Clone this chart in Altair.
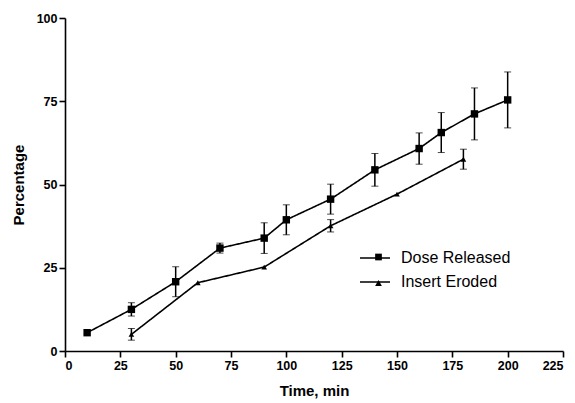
import altair as alt
import pandas as pd

dose_t = [10, 30, 50, 70, 90, 100, 120, 140, 160, 170, 185, 200]
dose_v = [5.5, 12.5, 20.8, 30.9, 33.9, 39.4, 45.6, 54.4, 60.8, 65.6, 71.2, 75.4]
dose_e = [0, 2.0, 4.5, 1.5, 4.6, 4.5, 4.5, 4.9, 4.7, 6.0, 7.8, 8.4]

erode_t = [30, 60, 90, 120, 150, 180]
erode_v = [5.0, 20.5, 25.2, 37.6, 47.1, 57.6]
erode_e = [1.75, 0, 0, 1.85, 0, 3.0]

series = ["Dose Released", "Insert Eroded"]

rows = []
for t, v, e in zip(dose_t, dose_v, dose_e):
    rows.append({"series": series[0], "t": t, "v": v, "e": e})
for t, v, e in zip(erode_t, erode_v, erode_e):
    rows.append({"series": series[1], "t": t, "v": v, "e": e})
df = pd.DataFrame(rows)
df["series_l"] = df["series"]
df["series_s"] = df["series"]
df["lo"] = df["v"] - df["e"]
df["hi"] = df["v"] + df["e"]

FONT = "Arial, Liberation Sans, sans-serif"

x = alt.X("t:Q", scale=alt.Scale(domain=[0, 225], nice=False),
          axis=alt.Axis(values=list(range(0, 226, 25)), title="Time, min"))
y = alt.Y("v:Q", scale=alt.Scale(domain=[0, 100], nice=False),
          axis=alt.Axis(values=[0, 25, 50, 75, 100], title="Percentage"))

base = alt.Chart(df)

lines = base.mark_line(color="black", strokeWidth=1.6).encode(
    x=x, y=y,
    strokeDash=alt.StrokeDash(
        "series_l:N", scale=alt.Scale(range=[[1, 0], [1, 0]]),
        legend=alt.Legend(
            title=None, orient="none", legendX=299, legendY=229, padding=0,
            symbolType="M-1.5,0H1.5", symbolSize=400,
            symbolStrokeColor="black", symbolStrokeWidth=1.5,
            labelFont=FONT, labelFontSize=16, labelColor="black",
            labelOffset=15, rowPadding=5,
        )),
)

points = base.mark_point(filled=True, color="black", opacity=1).encode(
    x=x, y=y,
    shape=alt.Shape("series:N",
                    scale=alt.Scale(domain=series, range=["square", "triangle-up"]),
                    legend=alt.Legend(
                        title=None, orient="none", legendX=306, legendY=231.5, padding=0,
                        symbolSize=45, symbolStrokeColor="black",
                        symbolFillColor="black", symbolStrokeWidth=0,
                        labelFont=FONT, labelFontSize=15, labelExpr="''",
                        rowPadding=10,
                    )),
    size=alt.Size("series_s:N", scale=alt.Scale(range=[55, 32]), legend=None),
)

err = base.transform_filter("datum.e > 0").mark_errorbar(
    ticks={"size": 7, "color": "black", "strokeWidth": 1.5},
    rule={"color": "black", "strokeWidth": 1.5},
).encode(
    x=x,
    y=alt.Y("lo:Q", scale=alt.Scale(domain=[0, 100], nice=False), title="Percentage"),
    y2="hi:Q",
)

chart = alt.layer(lines, err, points).properties(
    width=498, height=333,
    autosize=alt.AutoSizeParams(type="none"),
    padding={"left": 65, "top": 18, "right": 12, "bottom": 52},
    background="white",
).configure_view(stroke=None).configure_axis(
    domainColor="black", domainWidth=1.6, tickColor="black", tickWidth=1.6,
    tickSize=6, grid=False, labelFont=FONT, labelFontWeight="bold",
    labelFontSize=12.5, labelColor="black", titleFont=FONT, titleFontWeight="bold",
    titleFontSize=15, titleColor="black", labelPadding=2,
).configure_axisX(titlePadding=12).configure_axisY(titlePadding=10)

chart.save("out.html", embed_options={"renderer": "svg", "actions": False})
